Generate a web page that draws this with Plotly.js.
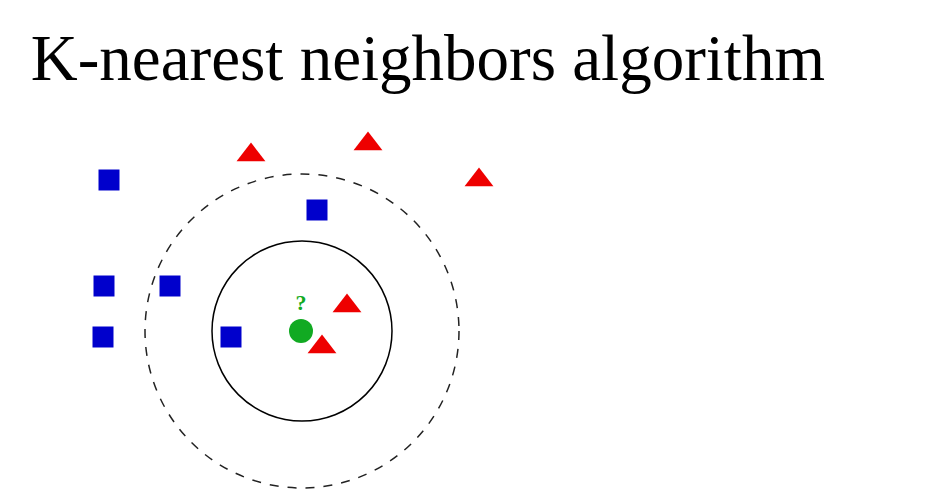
<!DOCTYPE html>
<html>
<head>
<script src="https://cdn.plot.ly/plotly-3.0.1.min.js"></script>
<style>html,body{margin:0;padding:0;background:#fff}</style>
</head>
<body>
<div id="plot" style="width:932px;height:503px"></div>
<script>
// positions (pixel-like units)
var blueX = [109, 317, 104, 170, 103, 231];
var blueY = [180, 210, 286, 286, 337, 337];
var redX = [251, 368, 479, 347, 322];
var redY = [155, 144, 180, 306, 347];
var queryX = [301];
var queryY = [331];
var innerR = 90;
var outerR = 157;

var blue = {
  x: blueX, y: blueY, mode: "markers", type: "scatter",
  marker: {symbol: "square", size: 21, color: "#0000cc"}
};
var red = {
  x: redX, y: redY, mode: "markers", type: "scatter",
  marker: {symbol: "triangle-up", size: 25, color: "#ee0000"}
};
var query = {
  x: queryX, y: queryY, mode: "markers+text", type: "scatter",
  marker: {symbol: "circle", size: 24, color: "#11aa22"},
  text: ["<b>?</b>"], textposition: "top center",
  textfont: {family: "Liberation Serif, serif", size: 22, color: "#11aa22"}
};

var cx = queryX[0] + 1, cy = queryY[0];
var layout = {
  width: 932, height: 503,
  margin: {l: 0, r: 0, t: 0, b: 0},
  showlegend: false,
  paper_bgcolor: "#fff", plot_bgcolor: "#fff",
  title: {
    text: "K-nearest neighbors algorithm",
    font: {family: "Liberation Serif, serif", size: 65, color: "#000"},
    x: 0.033, xanchor: "left", y: 0.84, yanchor: "bottom"
  },
  xaxis: {range: [0, 932], visible: false, fixedrange: true},
  yaxis: {range: [503, 0], visible: false, fixedrange: true},
  shapes: [
    {type: "circle", xref: "x", yref: "y", x0: cx - innerR, x1: cx + innerR,
     y0: cy - innerR, y1: cy + innerR, line: {color: "#000", width: 1.5}},
    {type: "circle", xref: "x", yref: "y", x0: cx - outerR, x1: cx + outerR,
     y0: cy - outerR, y1: cy + outerR, line: {color: "#222", width: 1.5, dash: "dash"}}
  ]
};

Plotly.newPlot("plot", [blue, red, query], layout, {displayModeBar: false});
</script>
</body>
</html>
